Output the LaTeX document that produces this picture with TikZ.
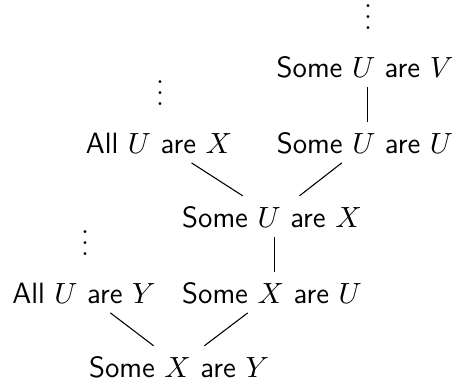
\documentclass[tikz,border=0pt]{standalone}
\usepackage{tikz}
\usetikzlibrary{positioning}
\tikzset{
  stmt/.style={anchor=base, inner sep=3.5pt, text height=8pt, text depth=0pt,
               font=\fontsize{11}{13}\selectfont\sffamily},
  dots/.style={anchor=base, inner sep=0pt, text height=9.5pt, text depth=0pt,
               font=\fontsize{11}{13}\selectfont},
  rule/.style={line width=0.4pt, color=black},
}

\begin{document}
\begin{tikzpicture}[x=0.375pt, y=-0.375pt]
      \useasboundingbox (0,0) rectangle (456,383);

      \node[dots] (topdots)  at (368,29)  {$\vdots$};
      \node[stmt] (suv)      at (365,77)  {Some $U$ are $V$};
      \node[stmt] (suu)      at (365,153) {Some $U$ are $U$};
      \node[dots] (leftdots) at (160,105) {$\vdots$};
      \node[stmt] (aux)      at (159,153) {All $U$ are $X$};
      \node[stmt] (sux)      at (272,227) {Some $U$ are $X$};
      \node[dots] (lowdots)  at (85,255)  {$\vdots$};
      \node[stmt] (auy)      at (84,303)  {All $U$ are $Y$};
      \node[stmt] (sxu)      at (272,303) {Some $X$ are $U$};
      \node[stmt] (sxy)      at (179,377) {Some $X$ are $Y$};

      \draw[rule] ([xshift=1pt]suv.south) -- ([xshift=1pt]suu.north);
      \draw[rule] ([xshift=12.2pt]aux.south) -- ([xshift=-11pt]sux.north);
      \draw[rule] ([xshift=-8.7pt]suu.south) -- ([xshift=10.3pt]sux.north);
      \draw[rule] ([xshift=0.8pt]sux.south) -- ([xshift=0.8pt]sxu.north);
      \draw[rule] ([xshift=9.9pt]auy.south) -- ([xshift=-9.5pt]sxy.north);
      \draw[rule] ([xshift=-9.1pt]sxu.south) -- ([xshift=9.5pt]sxy.north);
    \end{tikzpicture}
\end{document}
